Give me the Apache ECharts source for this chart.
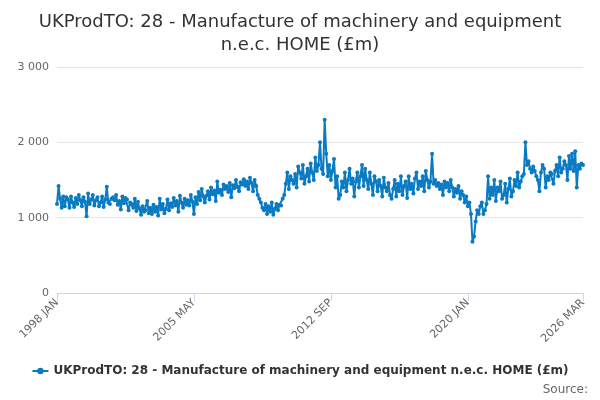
<!DOCTYPE html><html><head><meta charset="utf-8"><script src="https://cdn.jsdelivr.net/npm/echarts@6/dist/echarts.min.js"></script></head><body style="margin:0"><div id="c" style="width:600px;height:400px"></div><script>
const yearVals = [
[1180,1420,1250,1130,1280,1150,1270,1240,1130,1280,1200,1140],
[1260,1180,1300,1230,1150,1270,1210,1020,1320,1180,1240,1300],
[1160,1230,1270,1150,1200,1280,1140,1240,1410,1200,1180,1250],
[1270,1230,1300,1170,1220,1110,1280,1190,1260,1240,1100,1200],
[1180,1130,1250,1090,1210,1120,1040,1150,1080,1100,1220,1060],
[1130,1050,1170,1080,1140,1030,1250,1110,1180,1060,1120,1240],
[1100,1190,1140,1260,1160,1220,1080,1290,1200,1130,1250,1170],
[1230,1160,1300,1210,1050,1270,1180,1340,1230,1380,1280,1200],
[1290,1350,1240,1400,1310,1360,1220,1480,1330,1370,1300,1440],
[1380,1420,1340,1460,1270,1430,1390,1500,1410,1350,1470,1440],
[1510,1420,1480,1380,1530,1460,1350,1500,1420,1300,1250,1200],
[1130,1100,1180,1050,1150,1080,1200,1040,1120,1180,1100,1170],
[1160,1250,1300,1450,1600,1380,1550,1500,1450,1580,1400,1680],
[1600,1520,1700,1450,1550,1650,1480,1720,1600,1500,1800,1620],
[1700,2000,1650,1580,2300,1850,1550,1700,1500,1620,1780,1400],
[1550,1250,1300,1480,1400,1600,1350,1500,1650,1450,1520,1280],
[1480,1600,1400,1550,1700,1420,1650,1500,1380,1600,1450,1300],
[1550,1480,1350,1500,1420,1280,1530,1400,1350,1460,1300,1250],
[1380,1500,1280,1450,1350,1550,1300,1420,1480,1260,1550,1380],
[1450,1320,1520,1600,1380,1480,1420,1550,1350,1620,1500,1400],
[1480,1850,1450,1500,1420,1460,1380,1440,1300,1480,1400,1460],
[1350,1500,1400,1280,1380,1330,1420,1250,1350,1300,1200,1280],
[1150,1200,1050,680,750,950,1100,1050,1150,1200,1050,1100],
[1180,1550,1250,1400,1300,1500,1220,1400,1350,1480,1250,1300],
[1450,1200,1380,1520,1280,1350,1500,1420,1600,1400,1480,1550],
[1580,2000,1700,1750,1650,1600,1680,1620,1550,1500,1350,1600],
[1700,1650,1400,1550,1500,1600,1580,1450,1620,1700,1550,1800],
[1600,1650,1750,1700,1500,1820,1650,1850,1620,1880,1400,1700],
[1650,1720,1700]];
const months=['JAN','FEB','MAR','APR','MAY','JUN','JUL','AUG','SEP','OCT','NOV','DEC'];
const categories=[], values=[];
yearVals.forEach((arr,i)=>arr.forEach((v,m)=>{categories.push((1998+i)+' '+months[m]);values.push(v);}));
const shownLabels=['1998 JAN','2005 MAY','2012 SEP','2020 JAN','2026 MAR'];
const seriesName='UKProdTO: 28 - Manufacture of machinery and equipment n.e.c. HOME (£m)';
const show=(i,v)=>shownLabels.includes(v);
const ch=echarts.init(document.getElementById('c'));
ch.setOption({
 animation:false,
 title:{text:'UKProdTO: 28 - Manufacture of machinery and equipment\nn.e.c. HOME (£m)',left:'center',top:6,textStyle:{fontFamily:'DejaVu Sans',fontWeight:'normal',fontSize:18,color:'#333',lineHeight:23}},
 grid:{left:57,right:17,top:67,bottom:107},
 xAxis:{type:'category',data:categories,boundaryGap:false,
  axisLine:{lineStyle:{color:'#ccd6eb'}},
  axisTick:{interval:show,lineStyle:{color:'#ccd6eb'},length:8},
  axisLabel:{interval:show,rotate:45,color:'#666',fontSize:11,fontFamily:'DejaVu Sans',margin:8}},
 yAxis:{type:'value',min:0,max:3000,interval:1000,
  axisLabel:{color:'#666',fontSize:11,fontFamily:'DejaVu Sans',formatter:v=>v>=1000?(v/1000)+' 000':v},
  splitLine:{lineStyle:{color:'#e6e6e6'}}},
 legend:{bottom:18,left:'center',itemWidth:16,itemHeight:8,textStyle:{fontFamily:'DejaVu Sans',fontWeight:'bold',fontSize:12,color:'#333'}},
 graphic:[{type:'text',right:12,bottom:4,style:{text:'Source:',fontFamily:'DejaVu Sans',fontSize:12,fill:'#666'}}],
 series:[{name:seriesName,type:'line',data:values,symbol:'circle',symbolSize:4,showAllSymbol:true,
  itemStyle:{color:'#0a7bc2'},lineStyle:{width:2,color:'#0a7bc2'}}]
});
</script></body></html>
